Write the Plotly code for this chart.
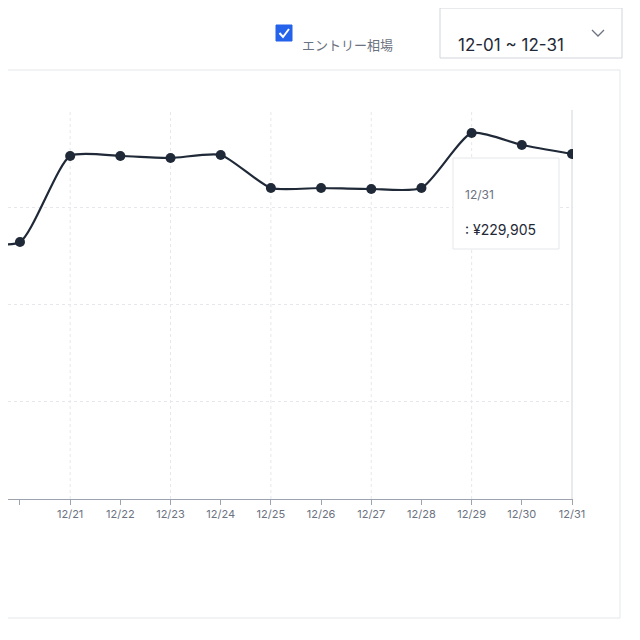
import plotly.graph_objects as go

days = [19, 20, 21, 22, 23, 24, 25, 26, 27, 28, 29, 30, 31]
values = [171260, 171260, 228570, 228570, 227240, 229240, 207250, 207250, 206580, 207250, 243900, 235900, 229905]
tick_days = list(range(20, 32))
tick_labels = [f"12/{d}" for d in tick_days]
title_text = "エントリー相場"
range_text = "12-01 ~ 12-31"
tip_date = "12/31"
tip_value = ": ¥229,905"

OFF = 8  # page body margin
W = 565.0; H = 389.0
def px(x): return (x - OFF) / W
def py(y): return (499 - y) / H

fig = go.Figure()
fig.add_trace(go.Scatter(x=days, y=values, mode="lines+markers",
    line=dict(color="#1f2937", width=2.2, shape="spline", smoothing=0.6),
    marker=dict(color="#1f2937", size=10), hoverinfo="skip", showlegend=False))

top = 229905 * 389 / 345
shapes = [
    dict(type="rect", xref="paper", yref="paper", x0=-0.05, x1=px(620), y0=py(618), y1=py(70),
         line=dict(color="#e5e7eb", width=1), fillcolor="rgba(0,0,0,0)", layer="below"),
    dict(type="rect", xref="paper", yref="paper", x0=px(440), x1=px(622), y0=py(58), y1=py(8),
         line=dict(color="#d1d5db", width=1)),
    dict(type="path", xref="paper", yref="paper",
         path=f"M {px(592)} {py(30)} L {px(598)} {py(36)} L {px(604)} {py(30)}",
         line=dict(color="#6b7280", width=1.3)),
    dict(type="rect", xref="paper", yref="paper", x0=px(276), x1=px(292), y0=py(41), y1=py(25),
         line=dict(color="#2563eb", width=1), fillcolor="#2563eb"),
    dict(type="path", xref="paper", yref="paper",
         path=f"M {px(279.5)} {py(33)} L {px(283)} {py(37)} L {px(289)} {py(29)}",
         line=dict(color="white", width=2)),
    dict(type="rect", xref="paper", yref="paper", x0=px(453), x1=px(559), y0=py(249), y1=py(158),
         line=dict(color="#e5e7eb", width=1), fillcolor="white"),
]
for d in range(21, 32, 2):
    shapes.append(dict(type="line", xref="x", yref="y", x0=d, x1=d, y0=0, y1=top,
                       line=dict(color="#e5e7eb" if d < 31 else "#d1d5db", width=1,
                                 dash="dot" if d < 31 else "solid"), layer="below"))

ann = [
    dict(x=px(300), y=py(33), text=title_text, xanchor="left", font=dict(color="#6b7280", size=13)),
    dict(x=px(456), y=py(33), text=range_text, xanchor="left", font=dict(color="#1f2937", size=17, family="Inter")),
    dict(x=px(463), y=py(185), text=tip_date, xanchor="left", font=dict(color="#6b7280", size=12, family="Inter")),
    dict(x=px(463), y=py(219), text=tip_value, xanchor="left", font=dict(color="#1f2937", size=14, family="Inter")),
]
for a in ann:
    a.update(xref="paper", yref="paper", showarrow=False)

fig.update_layout(
    width=640, height=640, margin=dict(l=0, r=75, t=102, b=149),
    paper_bgcolor="white", plot_bgcolor="white",
    font=dict(family="Noto Sans CJK JP, Inter, sans-serif"),
    shapes=shapes, annotations=ann,
    xaxis=dict(range=[20 - 12/50.3, 31.02], tickvals=tick_days, ticktext=tick_labels,
               showgrid=False, zeroline=False, showline=True, linecolor="#9ca3af",
               ticks="outside", ticklen=5, tickcolor="#9ca3af",
               tickfont=dict(size=11, color="#6b7280", family="Inter")),
    yaxis=dict(range=[0, top], dtick=top/4, showticklabels=False, zeroline=False,
               showgrid=True, gridcolor="#e5e7eb", griddash="dot"),
)
fig.write_html("out.html")
